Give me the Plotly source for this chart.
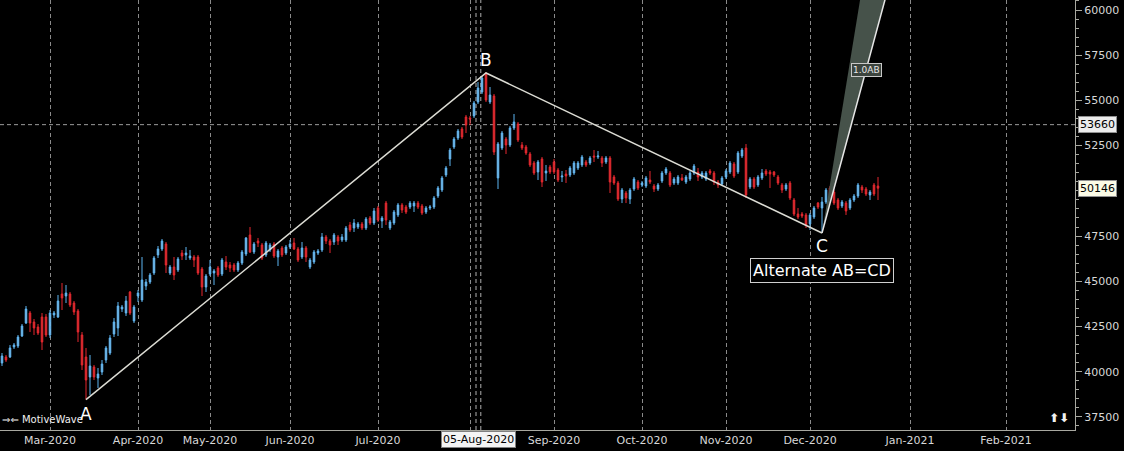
import plotly.graph_objects as go

# ---------------- data ----------------
opens = [40479, 40811, 40811, 41364, 41419, 41972, 42691, 43244, 42746, 42470,
         43023, 43023, 42027, 43134, 43023, 44295, 44184, 44295, 43797, 43355,
         42027, 40811, 39705, 40258, 39649, 39981, 40645, 41032, 42083, 42415,
         43465, 43244, 44406, 42802, 44184, 43963, 44737, 44958, 45456, 46452,
         46783, 47060, 45456, 45788, 45622, 46562, 46452, 46286, 46341, 46341,
         45677, 44682, 45401, 45456, 45733, 45401, 46064, 45898, 45898, 45622,
         46009, 46507, 47558, 46618, 47226, 47005, 46452, 46728, 47060, 46341,
         46839, 46562, 46894, 47115, 46783, 46341, 46839, 45788, 46064, 46562,
         46728, 47447, 47226, 47171, 47447, 47281, 47281, 48111, 47945, 48000,
         48166, 47945, 48498, 48221, 49051, 48332, 49324, 47945, 48221, 48664,
         49217, 49106, 49106, 49161, 49324, 49161, 48829, 49051, 49106, 49714,
         50046, 50876, 51760, 52424, 52922, 53419, 54083, 54028, 54138, 54912,
         55465, 56516, 54912, 55244, 50710, 52369, 52866, 52534, 53475, 53696,
         52534, 52424, 52037, 51539, 51042, 51760, 50986, 51318, 51594, 51152,
         50765, 50931, 50876, 50986, 51263, 51429, 51594, 51539, 51926, 51871,
         51816, 51594, 51816, 50765, 50433, 49548, 49880, 49548, 50101, 50488,
         50323, 50267, 50599, 50267, 50101, 50544, 50986, 50986, 50433, 50433,
         50710, 50488, 50654, 50986, 51042, 50765, 50654, 51097, 50986, 50488,
         50378, 50765, 51042, 51484, 51042, 51926, 52369, 50212, 50654, 50323,
         50710, 51097, 51042, 51042, 50765, 50323, 50101, 50433, 49493, 48719,
         48719, 48664, 48166, 48553, 49324, 49051, 49382, 50157, 49935, 49493,
         49161, 49324, 49051, 49493, 49714, 50212, 50101, 49770, 50323, 50267]

highs = [41032, 40921, 41475, 41585, 42027, 42636, 43631, 43355, 42913, 42636,
         43244, 43189, 43410, 43355, 44240, 44903, 44792, 44406, 43908, 43465,
         42193, 41309, 40921, 40369, 40203, 40645, 41419, 42027, 42968, 43852,
         43687, 44184, 44461, 43687, 44516, 46341, 45124, 45456, 46396, 46949,
         47336, 47171, 45898, 46341, 46341, 46728, 46894, 46728, 46452, 46452,
         45788, 45401, 46175, 45677, 45843, 46286, 46396, 46064, 46009, 46120,
         46728, 47447, 48000, 47171, 47392, 47115, 47226, 47115, 47171, 46783,
         46949, 47005, 47281, 47392, 46894, 47171, 46949, 46286, 46728, 46783,
         47668, 47558, 47336, 47668, 47558, 47613, 48055, 48277, 48442, 48277,
         48277, 48553, 48608, 49051, 49161, 48608, 49438, 48387, 48940, 49324,
         49324, 49217, 49438, 49438, 49438, 49272, 49161, 49217, 49714, 50267,
         50820, 51373, 52369, 52977, 53419, 53530, 54194, 54138, 54968, 56018,
         56350, 56516, 55742, 55355, 52700, 53309, 52977, 53585, 54249, 53807,
         52700, 52534, 52147, 51650, 51705, 51871, 51429, 51429, 51760, 51263,
         51097, 51152, 51373, 51650, 51650, 51982, 51705, 51926, 52258, 52203,
         51926, 51926, 51926, 50876, 50544, 50157, 49991, 50157, 50765, 50599,
         50544, 50820, 51097, 50378, 50433, 51097, 51318, 51097, 50765, 50876,
         50931, 50876, 51097, 51484, 51263, 51097, 51097, 51207, 51097, 50599,
         50820, 51207, 51650, 51594, 52203, 52369, 52590, 50765, 50765, 50876,
         51207, 51207, 51152, 51097, 50876, 50433, 50433, 50544, 49604, 49051,
         48829, 48774, 48774, 49161, 49382, 49659, 50157, 50267, 50046, 49604,
         49493, 49438, 49604, 49825, 50433, 50323, 50212, 50046, 50433, 50765]

lows = [40313, 40534, 40756, 41253, 41309, 41917, 42636, 42193, 42027, 42027,
        41198, 41917, 41862, 42968, 42968, 43410, 43797, 43576, 43134, 41640,
        40092, 38450, 38710, 39539, 39097, 39815, 40479, 40921, 41917, 41972,
        43300, 43078, 43134, 42691, 43852, 43852, 44516, 44848, 45345, 46286,
        46673, 45456, 45345, 45069, 45511, 46175, 46175, 46175, 45788, 45345,
        44184, 44406, 45290, 44792, 45235, 45290, 45622, 45511, 45511, 45511,
        45898, 46396, 46562, 46507, 46894, 46175, 46341, 46618, 46286, 45843,
        46341, 46452, 46783, 46728, 46064, 46230, 46064, 45677, 45954, 46452,
        46618, 47060, 46562, 47005, 47005, 47171, 47171, 47723, 47723, 47889,
        47834, 47834, 48111, 48111, 48277, 47945, 48111, 47834, 48111, 48553,
        48774, 48719, 48995, 48829, 48995, 48664, 48719, 48940, 48995, 49604,
        49935, 50765, 51373, 52314, 52811, 52866, 53198, 53641, 54028, 54801,
        55355, 54912, 54801, 51982, 50101, 52258, 52037, 52424, 53364, 52700,
        52258, 51982, 51318, 50876, 50599, 50212, 50544, 50931, 50931, 50488,
        50488, 50433, 50765, 50876, 51152, 51318, 51318, 51429, 51594, 51760,
        51318, 51484, 49880, 50323, 49438, 49324, 49324, 49272, 49991, 50046,
        50212, 50157, 50378, 49935, 49991, 50433, 50876, 50212, 50323, 50323,
        50544, 50378, 50544, 50876, 50544, 50654, 50544, 50876, 50323, 50157,
        50267, 50654, 50931, 50710, 50931, 51816, 49604, 50101, 50101, 50212,
        50599, 50820, 50157, 50765, 50323, 49880, 49991, 49493, 48608, 48442,
        48498, 47945, 47834, 48442, 48995, 47668, 49272, 49659, 49217, 48940,
        49051, 48664, 48940, 49382, 49604, 49880, 49714, 49493, 49714, 49493]

closes = [40866, 40645, 41309, 41475, 41917, 42525, 43465, 42691, 42415, 42138,
          41640, 42027, 43244, 43244, 43908, 44074, 44350, 43687, 43300, 42193,
          40369, 39539, 40313, 39705, 39871, 40424, 41309, 41862, 42746, 43631,
          43576, 43908, 43244, 43576, 44350, 45069, 44958, 45345, 46286, 46783,
          47226, 45898, 45788, 45345, 46230, 46396, 46562, 46396, 46175, 45456,
          44682, 45290, 45788, 45567, 45345, 46175, 45788, 45733, 45622, 46009,
          46618, 47392, 46618, 47060, 47115, 46286, 47115, 47005, 46396, 46673,
          46452, 46894, 47060, 46783, 46175, 46839, 46341, 46175, 46618, 46673,
          47447, 47226, 47005, 47558, 47226, 47447, 47945, 47834, 48221, 48166,
          47945, 48442, 48221, 48885, 48387, 48498, 48387, 48277, 48829, 49217,
          48940, 48829, 49324, 49324, 49106, 48774, 49051, 49106, 49604, 50157,
          50710, 51263, 52258, 52866, 53309, 52977, 53641, 53972, 54857, 55687,
          56240, 55023, 55300, 52147, 52590, 53198, 52534, 53475, 53807, 52811,
          52369, 52092, 51429, 50986, 51594, 50488, 51097, 51042, 51042, 50599,
          50820, 50820, 51263, 51539, 51539, 51871, 51429, 51816, 51871, 51926,
          51539, 51816, 50488, 50433, 49548, 50046, 49604, 50046, 50654, 50157,
          50433, 50710, 50488, 50101, 50323, 50986, 51207, 50323, 50654, 50765,
          50599, 50765, 50986, 51373, 50765, 50986, 50986, 50986, 50488, 50323,
          50710, 51097, 51539, 50820, 52092, 52258, 49770, 50654, 50212, 50765,
          50986, 50931, 50931, 50876, 50433, 50046, 50323, 49604, 48719, 48553,
          48608, 48111, 48664, 49051, 49106, 49382, 50046, 49770, 49324, 49051,
          49382, 48885, 49493, 49714, 50323, 50046, 49825, 49935, 49825, 50146]

bar_index = list(range(len(opens)))

# month tick labels (bar index of the first session of each month)
month_ticks = [12, 34, 52, 72, 94, 117, 138, 160, 181, 202, 227, 251]
month_labels = ["Mar-2020", "Apr-2020", "May-2020", "Jun-2020", "Jul-2020", "",
                "Sep-2020", "Oct-2020", "Nov-2020", "Dec-2020", "Jan-2021", "Feb-2021"]

# A-B-C pivots and the 1.0 AB projection from C
pivot_x = [21, 121, 205]
pivot_y = [38450, 56516, 47668]
pivot_names = ["A", "B", "C"]
proj_x = [205, 218.3, 227]
proj_y = [47668, 65687, 65687]

marked_idx = 119
marked_label = "05-Aug-2020"
ref_price = 53660
last_price = 50146
price_ticks = [37500, 40000, 42500, 45000, 47500, 50000, 52500, 55000, 57500, 60000]
# the 50000 label is hidden behind the last-price tag in the reference
price_tick_text = ["37500", "40000", "42500", "45000", "47500", "", "52500", "55000", "57500", "60000"]

FONT = "DejaVu Sans"
AXIS_COL = "#a8a8a0"
TXT_COL = "#d8d8d8"

fig = go.Figure()

# projection band (1.0AB)
fig.add_trace(go.Scatter(
    x=proj_x + [proj_x[0]], y=proj_y + [proj_y[0]],
    mode="lines", fill="toself", fillcolor="#46524a",
    line=dict(width=0), hoverinfo="skip", showlegend=False))
fig.add_trace(go.Scatter(
    x=[proj_x[0], proj_x[2]], y=[proj_y[0], proj_y[2]],
    mode="lines", line=dict(color="#e6e6e6", width=1.5),
    hoverinfo="skip", showlegend=False))

# candles
fig.add_trace(go.Candlestick(
    x=bar_index, open=opens, high=highs, low=lows, close=closes,
    increasing=dict(line=dict(color="#5db5f2", width=1), fillcolor="#a8d5f2"),
    decreasing=dict(line=dict(color="#e5272e", width=1), fillcolor="#dc3a3a"),
    whiskerwidth=0, showlegend=False, hoverinfo="skip"))

# A-B-C lines
fig.add_trace(go.Scatter(
    x=pivot_x, y=pivot_y, mode="lines",
    line=dict(color="#dcdcd4", width=1.5),
    hoverinfo="skip", showlegend=False))

shapes = [
    dict(type="line", xref="paper", yref="y", x0=0, x1=1, y0=ref_price, y1=ref_price,
         line=dict(color="#9a9a9a", width=1, dash="4px,3px"), layer="below"),
    dict(type="line", xref="x", yref="paper", x0=marked_idx - 0.5, x1=marked_idx - 0.5, y0=0, y1=1,
         line=dict(color="#b0b0b0", width=1, dash="4px,3px"), layer="below"),
    dict(type="line", xref="x", yref="paper", x0=marked_idx + 0.7, x1=marked_idx + 0.7, y0=0, y1=1,
         line=dict(color="#b0b0b0", width=1, dash="4px,3px"), layer="below"),
]

annotations = []
shifts = [-14, 13, -13]
for px, py, name, sh in zip(pivot_x, pivot_y, pivot_names, shifts):
    annotations.append(dict(x=px, y=py, xref="x", yref="y", text=name, showarrow=False,
                            yshift=sh, font=dict(family=FONT, size=17, color="#ffffff")))
annotations.append(dict(x=pivot_x[2], y=pivot_y[2], xref="x", yref="y", text="Alternate AB=CD",
                        showarrow=False, yshift=-37,
                        font=dict(family=FONT, size=16, color="#ffffff"),
                        bgcolor="#000000", bordercolor="#d0d0d0", borderwidth=1, borderpad=2))
annotations.append(dict(x=(proj_x[0] + proj_x[2]) / 2, y=(proj_y[0] + proj_y[2]) / 2,
                        xref="x", yref="y", text="1.0AB", showarrow=False,
                        font=dict(family=FONT, size=9, color="#e8e8e8"),
                        bgcolor="#3c443e", bordercolor="#c8c8c8", borderwidth=1, borderpad=1))
annotations.append(dict(x=marked_idx, y=0, xref="x", yref="paper", yanchor="top", text=marked_label,
                        showarrow=False, yshift=-1,
                        font=dict(family=FONT, size=11, color="#000000"),
                        bgcolor="#f4f4f4", bordercolor="#808080", borderwidth=1, borderpad=1))
annotations.append(dict(x=1, y=ref_price, xref="paper", yref="y", xanchor="left", text=str(ref_price),
                        showarrow=False, xshift=3,
                        font=dict(family=FONT, size=11, color="#000000"),
                        bgcolor="#ececec", bordercolor="#909090", borderwidth=1, borderpad=1))
annotations.append(dict(x=1, y=last_price, xref="paper", yref="y", xanchor="left", text=str(last_price),
                        showarrow=False, xshift=3,
                        font=dict(family=FONT, size=11, color="#000000"),
                        bgcolor="#fbfbe6", bordercolor="#909090", borderwidth=1, borderpad=1))
annotations.append(dict(x=0, y=0, xref="paper", yref="paper", xanchor="left", yanchor="bottom",
                        text="⇒⇐ MotiveWave", showarrow=False, xshift=0, yshift=3,
                        font=dict(family=FONT, size=10, color="#f0f0f0")))
annotations.append(dict(x=1, y=0, xref="paper", yref="paper", xanchor="right", yanchor="bottom",
                        text="<b>⬆⬇</b>", showarrow=False, xshift=-4, yshift=3,
                        font=dict(family=FONT, size=12, color="#f0f0f0")))

fig.update_layout(
    width=1124, height=451,
    margin=dict(l=0, r=49, t=0, b=21),
    paper_bgcolor="#000000", plot_bgcolor="#000000",
    showlegend=False, boxgap=0.45,
    shapes=shapes, annotations=annotations,
    xaxis=dict(range=[-0.5, 268.25], tickmode="array", tickvals=month_ticks, ticktext=month_labels,
               showgrid=True, gridcolor="#8a8a8a", griddash="4px,3px", gridwidth=1,
               showline=True, linecolor=AXIS_COL, linewidth=1, ticks="", zeroline=False,
               tickfont=dict(family=FONT, size=11, color=TXT_COL),
               rangeslider=dict(visible=False), fixedrange=True),
    yaxis=dict(range=[36774, 60553], side="right", tickmode="array", tickvals=price_ticks,
               ticktext=price_tick_text, showgrid=False, zeroline=False,
               showline=True, linecolor=AXIS_COL, linewidth=1,
               ticks="outside", ticklen=6, tickcolor=AXIS_COL,
               minor=dict(dtick=500, ticks="outside", ticklen=3, tickcolor=AXIS_COL),
               tickfont=dict(family=FONT, size=11, color=TXT_COL), fixedrange=True),
)

fig.write_html("out.html", config={"displayModeBar": False},
               post_script="document.body.style.margin='0px';document.body.style.background='#000';")
